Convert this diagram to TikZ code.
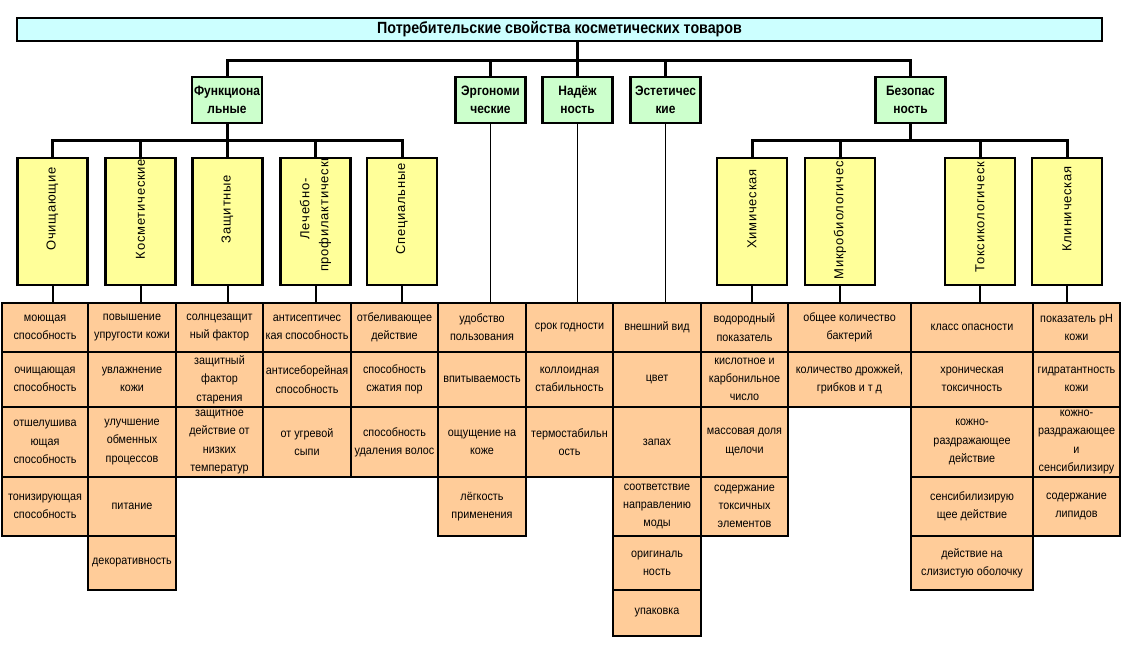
\documentclass[tikz,border=0pt]{standalone}
\usepackage{fontspec}
\setmainfont{Liberation Sans}[FakeStretch=0.9]
\newfontfamily\headfont{Liberation Sans}[FakeStretch=0.88]
\newfontfamily\vertfont{Liberation Sans}[LetterSpace=6]
\definecolor{titlecyan}{HTML}{CCFFFF}
\definecolor{groupgreen}{HTML}{CCFFCC}
\definecolor{subyellow}{HTML}{FFFF99}
\definecolor{itempeach}{HTML}{FFCC99}
\tikzset{
% boxes of the three levels and the cells below them
title box/.style={draw,line width=2.5pt,fill=titlecyan,minimum width=1085,minimum height=23,
  inner sep=0,font=\headfont\bfseries\fontsize{16.2}{18}\selectfont},
group node/.style={draw,line width=2.2pt,fill=groupgreen,minimum width=70,minimum height=46,
  inner sep=0,align=center,font=\headfont\bfseries\fontsize{13.6}{17.5}\selectfont},
sub node/.style={draw,line width=2.2pt,fill=subyellow,minimum width=70,minimum height=127,inner sep=0,
  path picture={\node[sub text] at ([yshift=12.5pt]path picture bounding box.center) {#1};}},
sub text/.style={rotate=90,align=center,inner sep=0,font=\vertfont\fontsize{13}{19}\selectfont},
item node/.style={draw,line width=2.2pt,fill=itempeach,inner sep=0,align=center,
  font=\fontsize{12}{18.3}\selectfont},
% connectors
bus/.style={line width=3pt},
stub/.style={line width=2pt},
thin line/.style={line width=1.3pt}
}
% row borders of the cells
\def\rowtop{{303,352,407,477,536,590,636}}
\newcommand{\itemcolumn}[4]{%
  \foreach \txt [count=\rownum] in {#4} {
    \pgfmathsetmacro\ytop{\rowtop[\rownum-1]}
    \pgfmathsetmacro\ybot{\rowtop[\rownum]}
    \node[item node,minimum width={#3-#2},minimum height={\ybot-\ytop}]
      (#1 r\rownum) at ({(#2+#3)/2},{(\ytop+\ybot)/2}) {\txt};
  }}

\begin{document}
\begin{tikzpicture}[x=1pt,y=-1pt]
  \useasboundingbox (0,0) rectangle (1121,654);
  \node[title box] (title) at (559.5,29.5) {Потребительские свойства косметических товаров};

  % groups
  \node[group node] (funk) at (227,100) {Функциона\\льные};
  \node[group node] (ergo) at (490.5,100) {Эргономи\\ческие};
  \node[group node] (nadezh) at (577.5,100) {Надёж\\ность};
  \node[group node] (estet) at (665.5,100) {Эстетичес\\кие};
  \node[group node] (bezop) at (910.5,100) {Безопас\\ность};

  % subgroups
  \node[sub node={Очищающие}] (ochisch) at (52.5,221.5) {};
  \node[sub node={Косметические}] (kosmet) at (140.5,221.5) {};
  \node[sub node={Защитные}] (zaschit) at (227.5,221.5) {};
  \node[sub node={Лечебно-\\профилактические}] (lechprof) at (315.5,221.5) {};
  \node[sub node={Специальные}] (special) at (402,221.5) {};
  \node[sub node={Химическая}] (chim) at (752,221.5) {};
  \node[sub node={Микробиологические}] (mikro) at (840,221.5) {};
  \node[sub node={Токсикологические}] (toksik) at (980,221.5) {};
  \node[sub node={Клиническая}] (klinik) at (1067,221.5) {};

  % cells
  \itemcolumn{ochisch}{2}{88}{{моющая\\способность},{очищающая\\способность},
    {отшелушива\\ющая\\способность},{тонизирующая\\способность}}
  \itemcolumn{kosmet}{88}{176}{{повышение\\упругости кожи},{увлажнение\\кожи},
    {улучшение\\обменных\\процессов},{питание},{декоративность}}
  \itemcolumn{zaschit}{176}{263}{{солнцезащит\\ный фактор},{защитный\\фактор\\старения},
    {защитное\\действие от\\низких\\температур}}
  \itemcolumn{lechprof}{263}{351}{{антисептичес\\кая способность},{антисеборейная\\способность},
    {от угревой\\сыпи}}
  \itemcolumn{special}{351}{438}{{отбеливающее\\действие},{способность\\сжатия пор},
    {способность\\удаления волос}}
  \itemcolumn{ergo}{438}{526}{{удобство\\пользования},{впитываемость},{ощущение на\\коже},
    {лёгкость\\применения}}
  \itemcolumn{nadezh}{526}{613}{{срок годности},{коллоидная\\стабильность},{термостабильн\\ость}}
  \itemcolumn{estet}{613}{701}{{внешний вид},{цвет},{запах},{соответствие\\направлению\\моды},
    {оригиналь\\ность},{упаковка}}
  \itemcolumn{chim}{701}{788}{{водородный\\показатель},{кислотное и\\карбонильное\\число},
    {массовая доля\\щелочи},{содержание\\токсичных\\элементов}}
  \itemcolumn{mikro}{788}{911}{{общее количество\\бактерий},{количество дрожжей,\\грибков и т д}}
  \itemcolumn{toksik}{911}{1033}{{класс опасности},{хроническая\\токсичность},
    {кожно-\\раздражающее\\действие},{сенсибилизирую\\щее действие},
    {действие на\\слизистую оболочку}}
  \itemcolumn{klinik}{1033}{1120}{{показатель pH\\кожи},{гидратантность\\кожи},
    {кожно-\\раздражающее\\и\\сенсибилизиру},{содержание\\липидов}}

  % title to groups
  \coordinate (bus top) at (0,60);
  \draw[bus] (nadezh.north) -- (title.south -| nadezh.north);
  \draw[bus] (funk.north) -- (funk.north |- bus top) -- (bezop.north |- bus top) -- (bezop.north);
  \foreach \g in {ergo,estet}
    \draw[bus] (\g.north) -- (\g.north |- bus top);

  % groups to subgroups
  \coordinate (bus low) at (0,140);
  \draw[bus] (funk.south) -- (funk.south |- bus low);
  \draw[bus] (ochisch.north) -- (ochisch.north |- bus low) -- (special.north |- bus low) -- (special.north);
  \foreach \s in {kosmet,zaschit,lechprof}
    \draw[bus] (\s.north) -- (\s.north |- bus low);
  \draw[bus] (bezop.south) -- (bezop.south |- bus low);
  \draw[bus] (chim.north) -- (chim.north |- bus low) -- (klinik.north |- bus low) -- (klinik.north);
  \foreach \s in {mikro,toksik}
    \draw[bus] (\s.north) -- (\s.north |- bus low);

  % down to the cells
  \foreach \g in {ergo,nadezh,estet}
    \draw[thin line] (\g.south) -- (\g.south |- \g\space r1.north);
  \foreach \s in {ochisch,kosmet,zaschit,lechprof,special,chim,mikro,toksik,klinik}
    \draw[stub] (\s.south) -- (\s.south |- \s\space r1.north);
\end{tikzpicture}
\end{document}
